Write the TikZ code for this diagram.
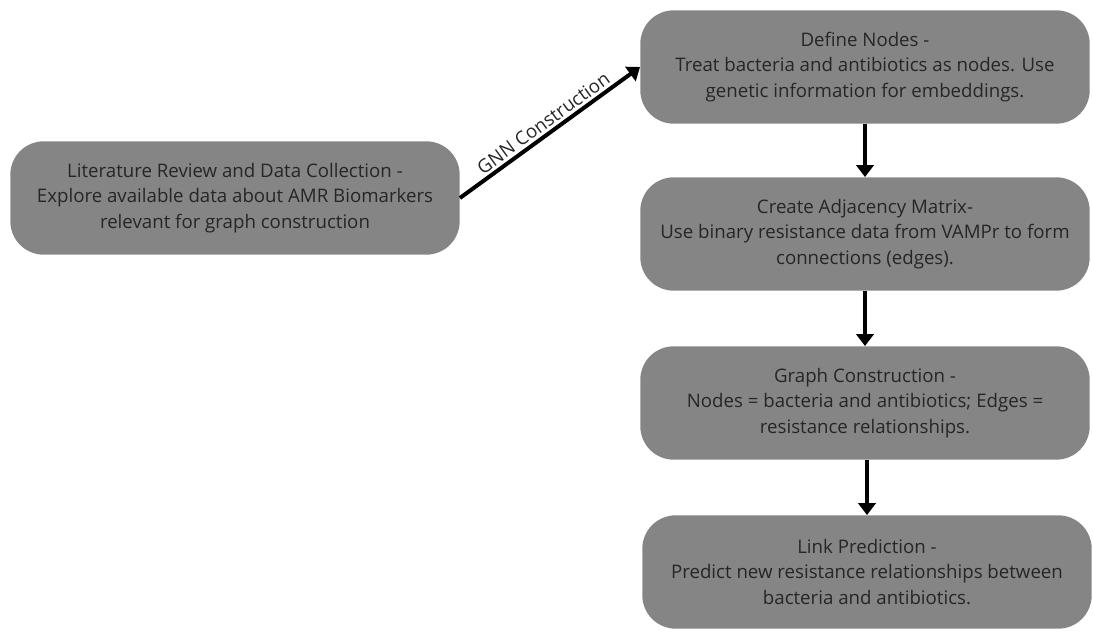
\documentclass[tikz,border=0pt]{standalone}
\usepackage{fontspec}
\setmainfont{Open Sans}
\usetikzlibrary{arrows.meta}

\definecolor{boxgray}{RGB}{133,133,133}
\definecolor{txtgray}{RGB}{38,38,38}

\tikzset{
  stepbox/.style={fill=boxgray, rounded corners=25pt, minimum width=337pt,
    minimum height=85pt, inner sep=0pt, align=center, text=txtgray,
    font=\fontsize{14}{19}\selectfont},
  flow/.style={line width=3pt, -{Triangle[length=9pt,width=13pt]}}
}

\begin{document}
\begin{tikzpicture}[x=0.75pt,y=-0.75pt]
    \useasboundingbox (0,0) rectangle (1093,634);

    \node[stepbox] (lit) at (235,198) {Literature Review and Data Collection -\\
      Explore available data about AMR Biomarkers\\ relevant for graph construction};

    \node[stepbox] (def) at (865,67) {Define Nodes -\\
      Treat bacteria and antibiotics as nodes. Use\\ genetic information for embeddings.};
    \node[stepbox] (adj) at (865,234) {Create Adjacency Matrix-\\
      Use binary resistance data from VAMPr to form\\ connections (edges).};
    \node[stepbox] (gra) at (865,403) {Graph Construction -\\
      Nodes = bacteria and antibiotics; Edges =\\ resistance relationships.};
    \node[stepbox] (lnk) at (867,572) {Link Prediction -\\
      Predict new resistance relationships between\\ bacteria and antibiotics.};

    \draw[flow] (lit.east) -- (def.west)
      node[midway,above,sloped,inner sep=2pt,text=txtgray,font=\fontsize{14}{16}\selectfont] {GNN Construction};

    \draw[flow] (def.south) -- (def.south |- adj.north);
    \draw[flow] (adj.south) -- (adj.south |- gra.north);
    \draw[flow] (lnk.north |- gra.south) -- (lnk.north);
  \end{tikzpicture}
\end{document}
